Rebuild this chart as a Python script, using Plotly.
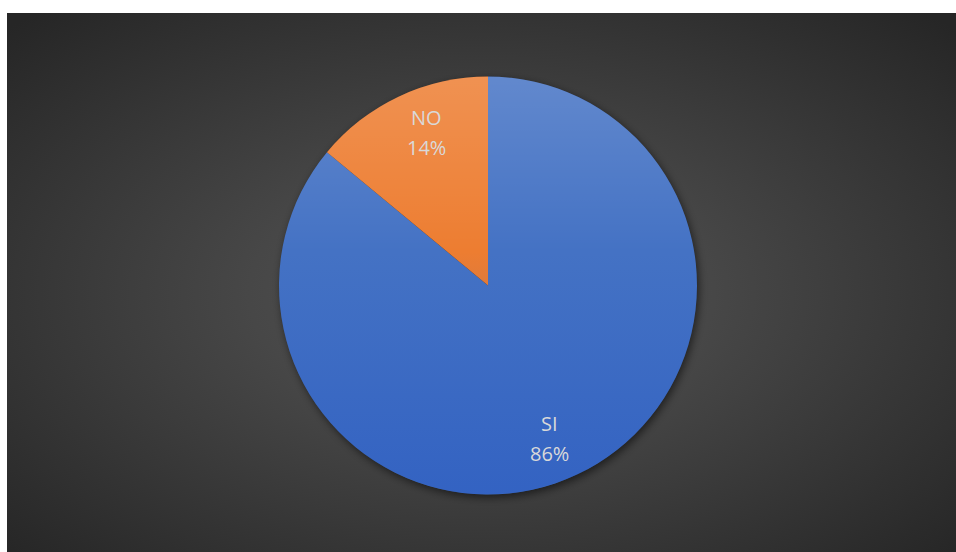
import base64
import math
import plotly.graph_objects as go

# Survey answers
labels = ["SI", "NO"]
values = [86, 14]
slice_colors = ["#4472C4", "#ED7D31"]

W, H = 956, 552
# dark chart area (pixels), leaving a thin white strip at the left and top
AREA_X0, AREA_Y0 = 7, 13
# pie geometry in pixels
CX, CY, R = 488, 285.5, 209


def svg_uri(svg):
    return "data:image/svg+xml;base64," + base64.b64encode(svg.encode()).decode()


def px_to_paper(x, y):
    return x / W, 1 - y / H


background_svg = (
    "<svg xmlns='http://www.w3.org/2000/svg' width='949' height='539' "
    "viewBox='0 0 949 539' preserveAspectRatio='none'>"
    "<defs><radialGradient id='g' cx='0.5' cy='0.52' r='0.7'>"
    "<stop offset='0' stop-color='#555555'/>"
    "<stop offset='0.35' stop-color='#474747'/>"
    "<stop offset='1' stop-color='#262626'/>"
    "</radialGradient></defs>"
    "<rect width='949' height='539' fill='url(#g)'/></svg>"
)

shadow_svg = (
    "<svg xmlns='http://www.w3.org/2000/svg' width='460' height='460' viewBox='0 0 460 460'>"
    "<defs><filter id='b' x='-20%' y='-20%' width='140%' height='140%'>"
    "<feGaussianBlur stdDeviation='4'/></filter></defs>"
    "<circle cx='232' cy='233' r='209' fill='#000' fill-opacity='0.55' filter='url(#b)'/></svg>"
)

# vertical sheen over the pie: lighter at the top, deeper blue at the bottom
shine_svg = (
    "<svg xmlns='http://www.w3.org/2000/svg' width='418' height='418' viewBox='0 0 418 418'>"
    "<defs><linearGradient id='s' x1='0' y1='0' x2='0' y2='1'>"
    "<stop offset='0' stop-color='#ffffff' stop-opacity='0.16'/>"
    "<stop offset='0.42' stop-color='#ffffff' stop-opacity='0'/>"
    "<stop offset='0.42' stop-color='#1f50c0' stop-opacity='0'/>"
    "<stop offset='1' stop-color='#1f50c0' stop-opacity='0.45'/>"
    "</linearGradient></defs>"
    "<circle cx='209' cy='209' r='209' fill='url(#s)'/></svg>"
)

bx0, by0 = px_to_paper(AREA_X0, AREA_Y0)
sx0, sy0 = px_to_paper(CX - 230, CY - 230)
gx0, gy0 = px_to_paper(CX - R, CY - R)

images = [
    dict(source=svg_uri(background_svg), xref="paper", yref="paper",
         x=bx0, y=by0, sizex=1 - bx0, sizey=by0, sizing="stretch",
         xanchor="left", yanchor="top", layer="below"),
    dict(source=svg_uri(shadow_svg), xref="paper", yref="paper",
         x=sx0, y=sy0, sizex=460 / W, sizey=460 / H, sizing="stretch",
         xanchor="left", yanchor="top", layer="below"),
    dict(source=svg_uri(shine_svg), xref="paper", yref="paper",
         x=gx0, y=gy0, sizex=2 * R / W, sizey=2 * R / H, sizing="stretch",
         xanchor="left", yanchor="top", layer="above"),
]

fig = go.Figure(
    go.Pie(
        labels=labels,
        values=values,
        sort=False,
        direction="clockwise",
        rotation=0,
        marker=dict(colors=slice_colors, line=dict(width=0)),
        textinfo="none",
        hoverinfo="label+percent",
        domain=dict(x=[(CX - R) / W, (CX + R) / W],
                    y=[1 - (CY + R) / H, 1 - (CY - R) / H]),
        showlegend=False,
    )
)

# data labels: category name above its rounded share, placed along each slice's mid-angle
total = sum(values)
annotations = []
start = 0.0
for lab, val in zip(labels, values):
    frac = val / total
    mid = (start + frac / 2) * 2 * math.pi
    start += frac
    lx = CX + 0.81 * R * math.sin(mid) * 0.86
    ly = CY - 0.81 * R * math.cos(mid)
    for text, dy in ((lab, -15), (f"{round(frac * 100)}%", 15)):
        ax, ay = px_to_paper(lx, ly + dy)
        annotations.append(dict(
            text=text, x=ax, y=ay, xref="paper", yref="paper",
            showarrow=False, xanchor="center", yanchor="middle",
            font=dict(family="Open Sans, Liberation Sans, sans-serif",
                      size=20, color="#D9D9D9"),
        ))

fig.update_layout(
    width=W, height=H,
    margin=dict(l=0, r=0, t=0, b=0),
    paper_bgcolor="#ffffff",
    plot_bgcolor="rgba(0,0,0,0)",
    images=images,
    annotations=annotations,
)

fig.write_html("out.html")
